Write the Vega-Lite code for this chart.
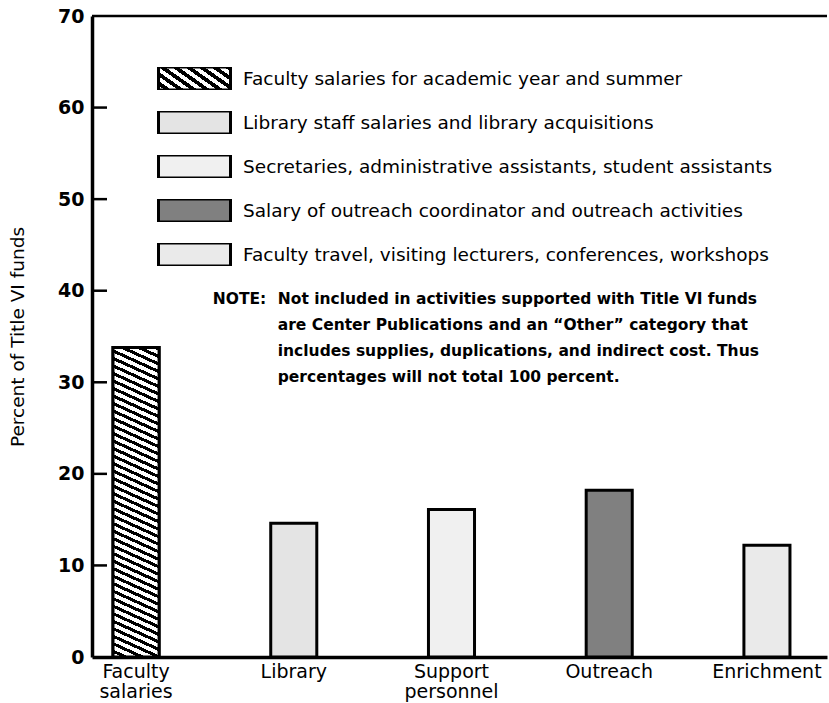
{
  "$schema": "https://vega.github.io/schema/vega-lite/v6.json",
  "width": 829,
  "height": 703,
  "autosize": {"type": "fit", "contains": "padding"},
  "padding": {"top": 7, "left": 8, "right": 0, "bottom": 2},
  "background": "white",
  "config": {"view": {"stroke": null}, "font": "DejaVu Sans"},
  "data": {
    "values": [
      {"category": "Faculty salaries", "activity": "Faculty salaries for academic year and summer", "percent": 33.8},
      {"category": "Library", "activity": "Library staff salaries and library acquisitions", "percent": 14.6},
      {"category": "Support personnel", "activity": "Secretaries, administrative assistants, student assistants", "percent": 16.1},
      {"category": "Outreach", "activity": "Salary of outreach coordinator and outreach activities", "percent": 18.2},
      {"category": "Enrichment", "activity": "Faculty travel, visiting lecturers, conferences, workshops", "percent": 12.2}
    ]
  },
  "layer": [
    {
      "mark": {"type": "bar", "stroke": "black", "strokeWidth": 3},
      "encoding": {
        "x": {
          "field": "category", "type": "nominal", "sort": null,
          "scale": {"domain": ["Faculty salaries", "Library", "Support personnel", "Outreach", "Enrichment"], "paddingInner": 0.708, "paddingOuter": 0.184, "align": 0.362},
          "axis": {"title": null, "labelExpr": "split(datum.label, ' ')", "labelAngle": 0, "labelFont": "DejaVu Sans", "labelFontSize": 19, "labelColor": "black", "labelPadding": 5, "labelLineHeight": 20, "ticks": false, "domainColor": "black", "domainWidth": 3.5}
        },
        "y": {
          "field": "percent", "type": "quantitative",
          "scale": {"domain": [0, 70], "nice": false},
          "axis": {"orient": "left", "values": [0, 10, 20, 30, 40, 50, 60, 70], "title": "Percent of Title VI funds", "titleFont": "DejaVu Sans", "titleFontSize": 18.5, "titleFontWeight": "normal", "titleColor": "black", "titlePadding": 30, "labelFont": "DejaVu Sans", "labelFontWeight": "bold", "labelFontSize": 19, "labelColor": "black", "labelPadding": 8, "ticks": false, "domainColor": "black", "domainWidth": 3.5, "grid": false}
        },
        "fill": {
          "field": "activity", "type": "nominal",
          "scale": {
            "domain": ["Faculty salaries for academic year and summer", "Library staff salaries and library acquisitions", "Secretaries, administrative assistants, student assistants", "Salary of outreach coordinator and outreach activities", "Faculty travel, visiting lecturers, conferences, workshops"],
            "range": [
              {"expr": "{gradient: 'linear', x1: 0, y1: 1, x2: 1.2055, y2: 0.4498, stops: [{offset: 0, color: '#fff'}, {offset: 0.0625, color: '#fff'}, {offset: 0.0625, color: '#000'}, {offset: 0.125, color: '#000'}, {offset: 0.125, color: '#fff'}, {offset: 0.1875, color: '#fff'}, {offset: 0.1875, color: '#000'}, {offset: 0.25, color: '#000'}, {offset: 0.25, color: '#fff'}, {offset: 0.3125, color: '#fff'}, {offset: 0.3125, color: '#000'}, {offset: 0.375, color: '#000'}, {offset: 0.375, color: '#fff'}, {offset: 0.4375, color: '#fff'}, {offset: 0.4375, color: '#000'}, {offset: 0.5, color: '#000'}, {offset: 0.5, color: '#fff'}, {offset: 0.5625, color: '#fff'}, {offset: 0.5625, color: '#000'}, {offset: 0.625, color: '#000'}, {offset: 0.625, color: '#fff'}, {offset: 0.6875, color: '#fff'}, {offset: 0.6875, color: '#000'}, {offset: 0.75, color: '#000'}, {offset: 0.75, color: '#fff'}, {offset: 0.8125, color: '#fff'}, {offset: 0.8125, color: '#000'}, {offset: 0.875, color: '#000'}, {offset: 0.875, color: '#fff'}, {offset: 0.9375, color: '#fff'}, {offset: 0.9375, color: '#000'}, {offset: 1, color: '#000'}]}"},
              "#e4e4e4", "#f0f0f0", "#808080", "#eaeaea"
            ]
          },
          "legend": {"orient": "none", "legendX": 65, "legendY": 51, "title": null, "symbolType": "M-1,-0.32H1V0.32H-1Z", "symbolSize": 5184, "symbolStrokeColor": "black", "symbolStrokeWidth": 3, "symbolOpacity": 1, "labelFont": "DejaVu Sans", "labelFontSize": 18.5, "labelColor": "black", "labelOffset": 11, "rowPadding": 21, "clipHeight": 23, "labelLimit": 700, "padding": 0}
        }
      }
    },
    {
      "data": {"values": [{}]},
      "mark": {"type": "rule", "color": "black", "strokeWidth": 2.5},
      "encoding": {"y": {"datum": 70, "type": "quantitative"}}
    },
    {
      "data": {"values": [{"tick": 10}, {"tick": 20}, {"tick": 30}, {"tick": 40}, {"tick": 50}, {"tick": 60}]},
      "mark": {"type": "rule", "color": "black", "strokeWidth": 2.5, "strokeDash": [26, 3000], "strokeDashOffset": 2306},
      "encoding": {"y": {"field": "tick", "type": "quantitative"}}
    },
    {
      "transform": [{"filter": "datum.category === 'Faculty salaries'"}],
      "mark": {
        "type": "bar", "stroke": "black", "strokeWidth": 3,
        "fill": {"gradient": "linear", "x1": 0, "y1": 1, "x2": 0.0717, "y2": -0.0626, "stops": [
          {"offset": 0, "color": "#fff"}, {"offset": 0.0125, "color": "#fff"}, {"offset": 0.0125, "color": "#000"}, {"offset": 0.0227, "color": "#000"},
          {"offset": 0.0227, "color": "#fff"}, {"offset": 0.0352, "color": "#fff"}, {"offset": 0.0352, "color": "#000"}, {"offset": 0.0455, "color": "#000"},
          {"offset": 0.0455, "color": "#fff"}, {"offset": 0.058, "color": "#fff"}, {"offset": 0.058, "color": "#000"}, {"offset": 0.0682, "color": "#000"},
          {"offset": 0.0682, "color": "#fff"}, {"offset": 0.0807, "color": "#fff"}, {"offset": 0.0807, "color": "#000"}, {"offset": 0.0909, "color": "#000"},
          {"offset": 0.0909, "color": "#fff"}, {"offset": 0.1034, "color": "#fff"}, {"offset": 0.1034, "color": "#000"}, {"offset": 0.1136, "color": "#000"},
          {"offset": 0.1136, "color": "#fff"}, {"offset": 0.1261, "color": "#fff"}, {"offset": 0.1261, "color": "#000"}, {"offset": 0.1364, "color": "#000"},
          {"offset": 0.1364, "color": "#fff"}, {"offset": 0.1489, "color": "#fff"}, {"offset": 0.1489, "color": "#000"}, {"offset": 0.1591, "color": "#000"},
          {"offset": 0.1591, "color": "#fff"}, {"offset": 0.1716, "color": "#fff"}, {"offset": 0.1716, "color": "#000"}, {"offset": 0.1818, "color": "#000"},
          {"offset": 0.1818, "color": "#fff"}, {"offset": 0.1943, "color": "#fff"}, {"offset": 0.1943, "color": "#000"}, {"offset": 0.2045, "color": "#000"},
          {"offset": 0.2045, "color": "#fff"}, {"offset": 0.217, "color": "#fff"}, {"offset": 0.217, "color": "#000"}, {"offset": 0.2273, "color": "#000"},
          {"offset": 0.2273, "color": "#fff"}, {"offset": 0.2398, "color": "#fff"}, {"offset": 0.2398, "color": "#000"}, {"offset": 0.25, "color": "#000"},
          {"offset": 0.25, "color": "#fff"}, {"offset": 0.2625, "color": "#fff"}, {"offset": 0.2625, "color": "#000"}, {"offset": 0.2727, "color": "#000"},
          {"offset": 0.2727, "color": "#fff"}, {"offset": 0.2852, "color": "#fff"}, {"offset": 0.2852, "color": "#000"}, {"offset": 0.2955, "color": "#000"},
          {"offset": 0.2955, "color": "#fff"}, {"offset": 0.308, "color": "#fff"}, {"offset": 0.308, "color": "#000"}, {"offset": 0.3182, "color": "#000"},
          {"offset": 0.3182, "color": "#fff"}, {"offset": 0.3307, "color": "#fff"}, {"offset": 0.3307, "color": "#000"}, {"offset": 0.3409, "color": "#000"},
          {"offset": 0.3409, "color": "#fff"}, {"offset": 0.3534, "color": "#fff"}, {"offset": 0.3534, "color": "#000"}, {"offset": 0.3636, "color": "#000"},
          {"offset": 0.3636, "color": "#fff"}, {"offset": 0.3761, "color": "#fff"}, {"offset": 0.3761, "color": "#000"}, {"offset": 0.3864, "color": "#000"},
          {"offset": 0.3864, "color": "#fff"}, {"offset": 0.3989, "color": "#fff"}, {"offset": 0.3989, "color": "#000"}, {"offset": 0.4091, "color": "#000"},
          {"offset": 0.4091, "color": "#fff"}, {"offset": 0.4216, "color": "#fff"}, {"offset": 0.4216, "color": "#000"}, {"offset": 0.4318, "color": "#000"},
          {"offset": 0.4318, "color": "#fff"}, {"offset": 0.4443, "color": "#fff"}, {"offset": 0.4443, "color": "#000"}, {"offset": 0.4545, "color": "#000"},
          {"offset": 0.4545, "color": "#fff"}, {"offset": 0.467, "color": "#fff"}, {"offset": 0.467, "color": "#000"}, {"offset": 0.4773, "color": "#000"},
          {"offset": 0.4773, "color": "#fff"}, {"offset": 0.4898, "color": "#fff"}, {"offset": 0.4898, "color": "#000"}, {"offset": 0.5, "color": "#000"},
          {"offset": 0.5, "color": "#fff"}, {"offset": 0.5125, "color": "#fff"}, {"offset": 0.5125, "color": "#000"}, {"offset": 0.5227, "color": "#000"},
          {"offset": 0.5227, "color": "#fff"}, {"offset": 0.5352, "color": "#fff"}, {"offset": 0.5352, "color": "#000"}, {"offset": 0.5455, "color": "#000"},
          {"offset": 0.5455, "color": "#fff"}, {"offset": 0.558, "color": "#fff"}, {"offset": 0.558, "color": "#000"}, {"offset": 0.5682, "color": "#000"},
          {"offset": 0.5682, "color": "#fff"}, {"offset": 0.5807, "color": "#fff"}, {"offset": 0.5807, "color": "#000"}, {"offset": 0.5909, "color": "#000"},
          {"offset": 0.5909, "color": "#fff"}, {"offset": 0.6034, "color": "#fff"}, {"offset": 0.6034, "color": "#000"}, {"offset": 0.6136, "color": "#000"},
          {"offset": 0.6136, "color": "#fff"}, {"offset": 0.6261, "color": "#fff"}, {"offset": 0.6261, "color": "#000"}, {"offset": 0.6364, "color": "#000"},
          {"offset": 0.6364, "color": "#fff"}, {"offset": 0.6489, "color": "#fff"}, {"offset": 0.6489, "color": "#000"}, {"offset": 0.6591, "color": "#000"},
          {"offset": 0.6591, "color": "#fff"}, {"offset": 0.6716, "color": "#fff"}, {"offset": 0.6716, "color": "#000"}, {"offset": 0.6818, "color": "#000"},
          {"offset": 0.6818, "color": "#fff"}, {"offset": 0.6943, "color": "#fff"}, {"offset": 0.6943, "color": "#000"}, {"offset": 0.7045, "color": "#000"},
          {"offset": 0.7045, "color": "#fff"}, {"offset": 0.717, "color": "#fff"}, {"offset": 0.717, "color": "#000"}, {"offset": 0.7273, "color": "#000"},
          {"offset": 0.7273, "color": "#fff"}, {"offset": 0.7398, "color": "#fff"}, {"offset": 0.7398, "color": "#000"}, {"offset": 0.75, "color": "#000"},
          {"offset": 0.75, "color": "#fff"}, {"offset": 0.7625, "color": "#fff"}, {"offset": 0.7625, "color": "#000"}, {"offset": 0.7727, "color": "#000"},
          {"offset": 0.7727, "color": "#fff"}, {"offset": 0.7852, "color": "#fff"}, {"offset": 0.7852, "color": "#000"}, {"offset": 0.7955, "color": "#000"},
          {"offset": 0.7955, "color": "#fff"}, {"offset": 0.808, "color": "#fff"}, {"offset": 0.808, "color": "#000"}, {"offset": 0.8182, "color": "#000"},
          {"offset": 0.8182, "color": "#fff"}, {"offset": 0.8307, "color": "#fff"}, {"offset": 0.8307, "color": "#000"}, {"offset": 0.8409, "color": "#000"},
          {"offset": 0.8409, "color": "#fff"}, {"offset": 0.8534, "color": "#fff"}, {"offset": 0.8534, "color": "#000"}, {"offset": 0.8636, "color": "#000"},
          {"offset": 0.8636, "color": "#fff"}, {"offset": 0.8761, "color": "#fff"}, {"offset": 0.8761, "color": "#000"}, {"offset": 0.8864, "color": "#000"},
          {"offset": 0.8864, "color": "#fff"}, {"offset": 0.8989, "color": "#fff"}, {"offset": 0.8989, "color": "#000"}, {"offset": 0.9091, "color": "#000"},
          {"offset": 0.9091, "color": "#fff"}, {"offset": 0.9216, "color": "#fff"}, {"offset": 0.9216, "color": "#000"}, {"offset": 0.9318, "color": "#000"},
          {"offset": 0.9318, "color": "#fff"}, {"offset": 0.9443, "color": "#fff"}, {"offset": 0.9443, "color": "#000"}, {"offset": 0.9545, "color": "#000"},
          {"offset": 0.9545, "color": "#fff"}, {"offset": 0.967, "color": "#fff"}, {"offset": 0.967, "color": "#000"}, {"offset": 0.9773, "color": "#000"},
          {"offset": 0.9773, "color": "#fff"}, {"offset": 0.9898, "color": "#fff"}, {"offset": 0.9898, "color": "#000"}, {"offset": 1, "color": "#000"}
        ]}
      },
      "encoding": {
        "x": {"field": "category", "type": "nominal", "sort": null},
        "y": {"field": "percent", "type": "quantitative"}
      }
    },
    {
      "data": {"values": [{}]},
      "mark": {"type": "text", "text": "NOTE:", "align": "left", "baseline": "top", "dx": -81, "font": "DejaVu Sans", "fontSize": 15.5, "fontWeight": "bold", "color": "black"},
      "encoding": {"x": {"datum": "Library", "type": "nominal"}, "y": {"datum": 39.9, "type": "quantitative"}}
    },
    {
      "data": {"values": [{}]},
      "mark": {"type": "text", "text": ["Not included in activities supported with Title VI funds", "are Center Publications and an “Other” category that", "includes supplies, duplications, and indirect cost.  Thus", "percentages will not total 100 percent."], "align": "left", "baseline": "top", "lineHeight": 26, "dx": -16, "font": "DejaVu Sans", "fontSize": 15.5, "fontWeight": "bold", "color": "black"},
      "encoding": {"x": {"datum": "Library", "type": "nominal"}, "y": {"datum": 39.9, "type": "quantitative"}}
    }
  ]
}
